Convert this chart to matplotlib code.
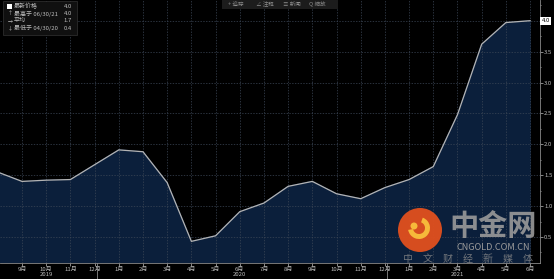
import matplotlib
matplotlib.use("Agg")
import matplotlib.pyplot as plt
from matplotlib.patches import Circle, Rectangle, Wedge
from matplotlib.transforms import blended_transform_factory
import numpy as np

plt.rcParams["font.family"] = ["Noto Sans CJK SC", "DejaVu Sans"]

# month-end values, Aug 2019 .. Jun 2021
months = ["8月", "9月", "10月", "11月", "12月", "1月", "2月", "3月", "4月", "5月", "6月", "7月",
          "8月", "9月", "10月", "11月", "12月", "1月", "2月", "3月", "4月", "5月", "6月"]
values = [1.55, 1.40, 1.42, 1.43, 1.67, 1.91, 1.88, 1.38, 0.43, 0.52, 0.91, 1.05,
          1.32, 1.40, 1.20, 1.12, 1.30, 1.43, 1.64, 2.48, 3.62, 3.97, 4.00]
years = ["2019", "2020", "2021"]
year_pos = [2, 10, 19]
legend_names = ["最新价格", "最高于 06/30/21", "平均", "最低于 04/30/20"]
legend_vals = ["4.0", "4.0", "1.7", "0.4"]
y_ticks = [0.5, 1.0, 1.5, 2.0, 2.5, 3.0, 3.5, 4.0]

BG = "#000000"
FILL = "#0b1f3b"
LINE = "#b4b4b4"
GRID = "#3b4656"
TXT = "#bdbdbd"
W, H = 554, 279


def fx(px):
    return px / W


def fy(py):
    return 1 - py / H


fig = plt.figure(figsize=(W / 100, H / 100), dpi=100, facecolor=BG)
ax = fig.add_axes([0, 16 / H, 540 / W, 263 / H])
ax.set_facecolor(BG)

x = np.arange(len(values))
ax.fill_between(x, values, -1, color=FILL, zorder=1)
ax.plot(x, values, color=LINE, lw=0.9, zorder=3)

ax.set_xlim(0.09, 22.41)
ax.set_ylim(0.08, 4.335)

ax.set_xticks(x[1:])
ax.set_xticklabels(months[1:])
ax.yaxis.tick_right()
ax.set_yticks(y_ticks)
ax.set_yticklabels([f"{v:.1f}" for v in y_ticks[:-1]] + [""])
ax.set_yticks(np.arange(0.25, 4.3, 0.25), minor=True)
ax.tick_params(axis="x", colors=TXT, labelsize=4.3, length=2, width=0.5, pad=0.5)
ax.tick_params(axis="y", which="both", colors=TXT, labelsize=4.3, length=2, width=0.5, pad=1)
ax.tick_params(axis="y", which="minor", length=1)
ax.grid(True, color=GRID, lw=0.5, linestyle=(0, (2, 2)), zorder=2)
for side in ["top", "left"]:
    ax.spines[side].set_visible(False)
for side in ["bottom", "right"]:
    ax.spines[side].set_color("#8a8a8a")
    ax.spines[side].set_linewidth(0.6)

# highlighted last value on axis
ax.text(1.003, (4.0 - 0.08) / (4.335 - 0.08), "4.0", transform=ax.transAxes,
        fontsize=4.3, color="black", va="center", ha="left",
        bbox=dict(boxstyle="square,pad=0.25", fc="white", ec="none"))

# year labels and separators
yr_trans = blended_transform_factory(ax.transData, fig.transFigure)
for yr, p in zip(years, year_pos):
    fig.text(p, fy(275), yr, fontsize=4.3, color=TXT, ha="center", va="center",
             transform=yr_trans)
for p in [4.1, 16.1]:
    ax.plot([p, p], [0, -0.07], transform=ax.get_xaxis_transform(),
            color="#8a8a8a", lw=0.6, clip_on=False)

# legend box
fig.patches.append(Rectangle((fx(3), fy(35)), fx(74), 34 / H,
                             transform=fig.transFigure, fc="#101010", ec="#333333", lw=0.5))
fig.patches.append(Rectangle((fx(7), fy(9)), fx(5), 5 / H,
                             transform=fig.transFigure, fc="white", ec="none"))
marks = ["", "↑", "→", "↓"]
for i, (n, v, m) in enumerate(zip(legend_names, legend_vals, marks)):
    yy = fy(6.5 + i * 7.2)
    if m:
        fig.text(fx(8), yy, m, fontsize=3.6, color=TXT, va="center", ha="left")
    fig.text(fx(14), yy, n, fontsize=4.3, color=TXT, va="center", ha="left")
    fig.text(fx(72), yy, v, fontsize=4.3, color=TXT, va="center", ha="right")

# toolbar
fig.patches.append(Rectangle((fx(222), fy(9)), fx(116), 9 / H,
                             transform=fig.transFigure, fc="#1c1c1c", ec="none"))
for tx, label in zip([228, 256, 283, 309], ["+ 追踪", "∠ 注释", "≡ 新闻", "Q 缩放"]):
    fig.text(fx(tx), fy(4.5), label, fontsize=4.0, color="#8c8c8c",
             va="center", ha="left")

# watermark
logo = (4.20, (H - 230) / 100)
fig.patches.append(Circle(logo, 0.22, transform=fig.dpi_scale_trans,
                          fc="#e2501e", ec="none", alpha=0.95))
fig.patches.append(Wedge((logo[0] - 0.01, logo[1] + 0.02), 0.11, 190, 70, width=0.05,
                         transform=fig.dpi_scale_trans, fc="#f6b93a", ec="none"))
fig.patches.append(Circle((logo[0] - 0.06, logo[1] + 0.04), 0.035, transform=fig.dpi_scale_trans,
                          fc="#f6b93a", ec="none"))
fig.text(fx(493), fy(226), "中金网", fontsize=21, fontweight="bold",
         color="#9a9a9a", alpha=0.9, ha="center", va="center")
fig.text(fx(493), fy(247.5), "CNGOLD.COM.CN", fontsize=6.6,
         color="#9a9a9a", ha="center", va="center")
fig.text(fx(468), fy(259), "中　文　财　经　新　媒　体", fontsize=7.2,
         color="#8a8a8a", alpha=0.8, ha="center", va="center")

fig.savefig("out.png", dpi=100, facecolor=BG)
